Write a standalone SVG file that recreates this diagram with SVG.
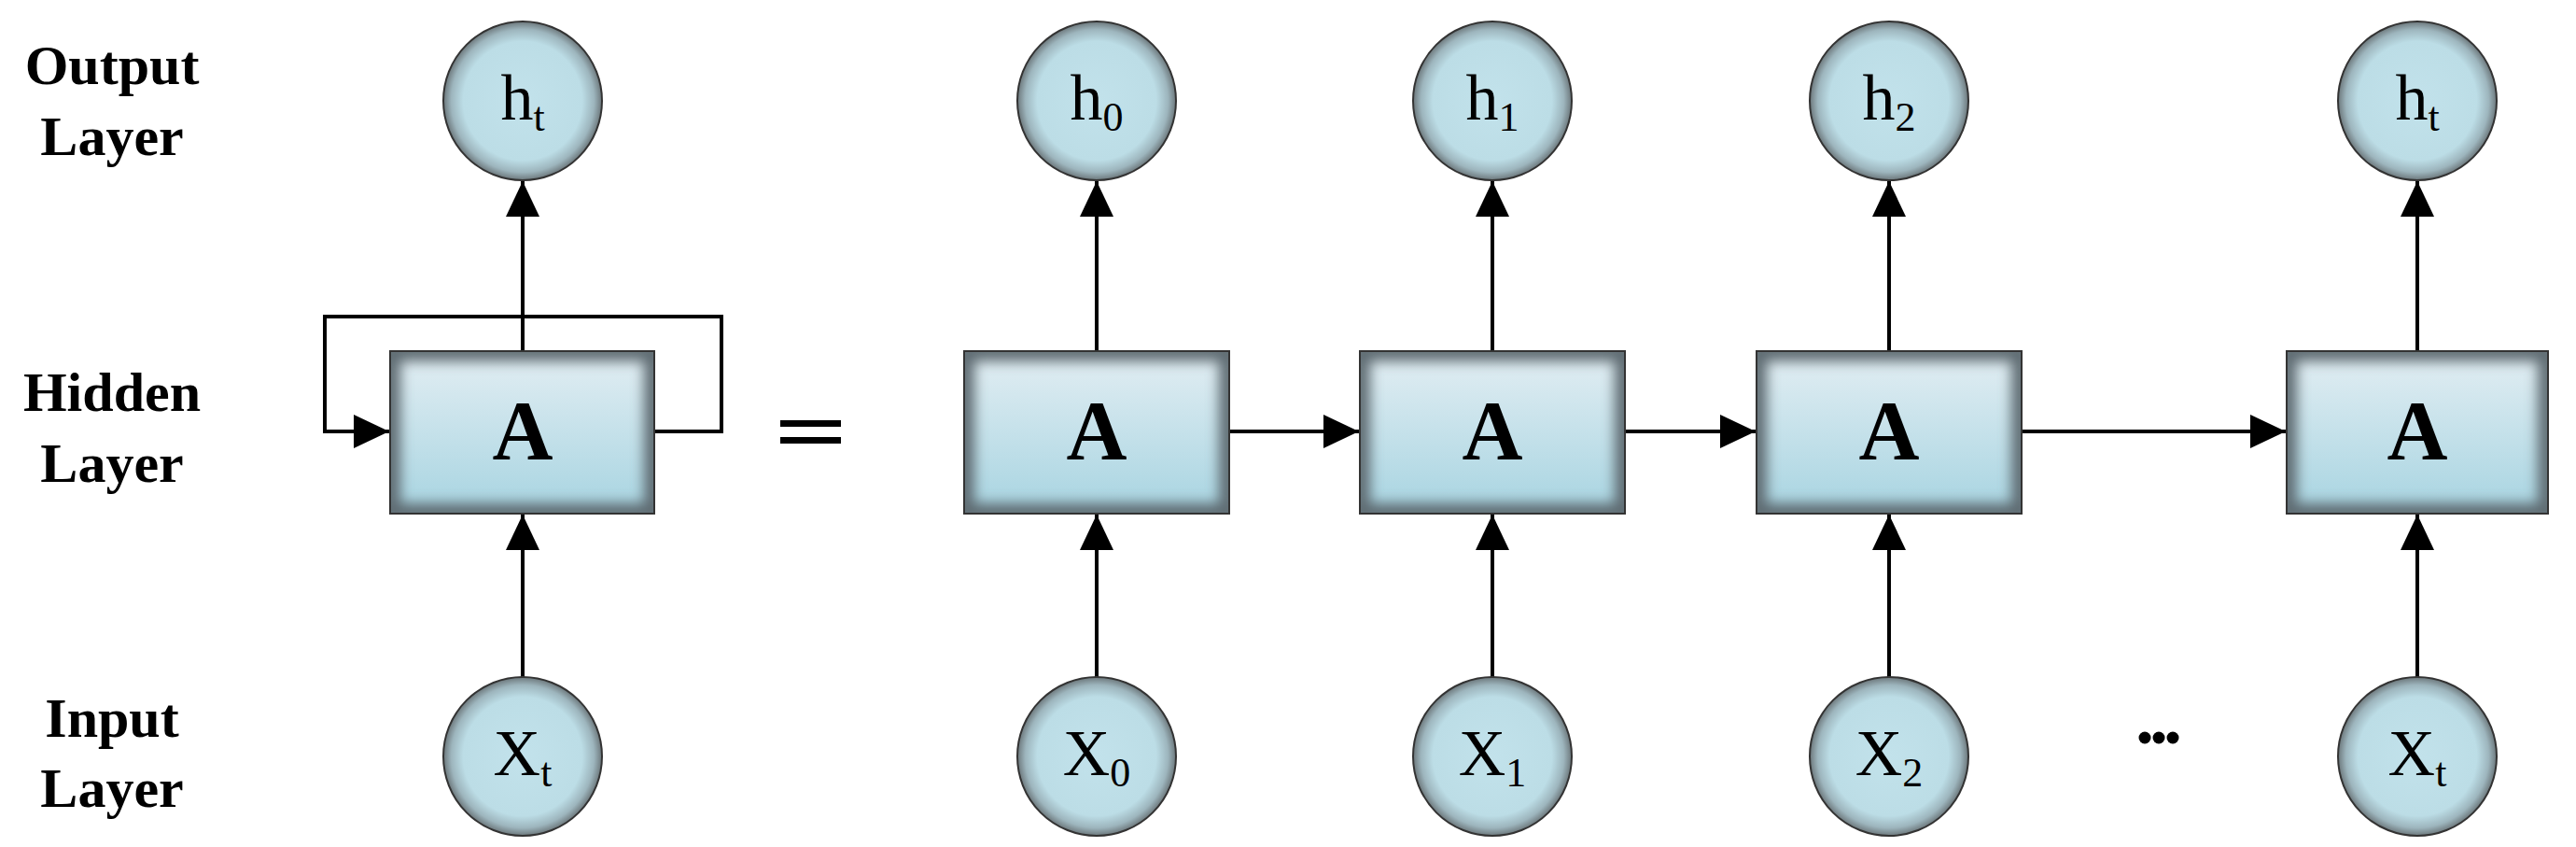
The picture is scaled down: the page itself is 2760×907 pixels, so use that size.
<svg xmlns="http://www.w3.org/2000/svg" width="2760" height="907" viewBox="0 0 2760 907">
<defs>
<style>
.lbl{font-family:"Liberation Serif",serif;font-weight:bold;font-size:60px;text-anchor:middle;fill:#000}
.ct{font-family:"Liberation Serif",serif;font-size:70px;text-anchor:middle;fill:#000}
.sub{font-size:44px}
.bt{font-family:"Liberation Serif",serif;font-weight:bold;font-size:90px;text-anchor:middle;fill:#000}
.ln{stroke:#000;stroke-width:4;fill:none;marker-end:url(#ah)}
.circ{fill:url(#rg);stroke:#333;stroke-width:2}
.box{fill:url(#lg);stroke:#333;stroke-width:2}
.glow{fill:none;stroke:#5f6c72;stroke-width:22;filter:url(#bl)}
</style>
<radialGradient id="rg" cx="0.5" cy="0.5" r="0.5">
<stop offset="0" stop-color="#c2e2eb"/><stop offset="0.75" stop-color="#bcdde6"/><stop offset="0.9" stop-color="#9db5bd"/><stop offset="1" stop-color="#6c777b"/>
</radialGradient>
<linearGradient id="lg" x1="0" y1="0" x2="0" y2="1">
<stop offset="0" stop-color="#e3eef3"/><stop offset="1" stop-color="#a7d4e1"/>
</linearGradient>
<filter id="bl" x="-0.1" y="-0.1" width="1.2" height="1.2"><feGaussianBlur stdDeviation="7"/></filter>
<marker id="ah" markerUnits="userSpaceOnUse" markerWidth="40" markerHeight="36" refX="38" refY="18" orient="auto"><path d="M0,0 L38,18 L0,36 Z" fill="#000"/></marker>
<clipPath id="c0"><rect x="418" y="376" width="283" height="174"/></clipPath>
<clipPath id="c1"><rect x="1033" y="376" width="284" height="174"/></clipPath>
<clipPath id="c2"><rect x="1457" y="376" width="284" height="174"/></clipPath>
<clipPath id="c3"><rect x="1882" y="376" width="284" height="174"/></clipPath>
<clipPath id="c4"><rect x="2450" y="376" width="280" height="174"/></clipPath>
</defs>
<rect width="2760" height="907" fill="#fff"/>
<g id="labels">
<text class="lbl" x="120" y="90">Output</text><text class="lbl" x="120" y="166">Layer</text>
<text class="lbl" x="120" y="440">Hidden</text><text class="lbl" x="120" y="516">Layer</text>
<text class="lbl" x="120" y="789">Input</text><text class="lbl" x="120" y="864">Layer</text>
</g>
<g id="connectors">
<line class="ln" x1="560" y1="376" x2="560" y2="194"/>
<line class="ln" x1="560" y1="725" x2="560" y2="551"/>
<polyline class="ln" points="701,462 773,462 773,339 348,339 348,462 417,462"/>
<line class="ln" x1="1175" y1="376" x2="1175" y2="194"/>
<line class="ln" x1="1175" y1="725" x2="1175" y2="551"/>
<line class="ln" x1="1599" y1="376" x2="1599" y2="194"/>
<line class="ln" x1="1599" y1="725" x2="1599" y2="551"/>
<line class="ln" x1="2024" y1="376" x2="2024" y2="194"/>
<line class="ln" x1="2024" y1="725" x2="2024" y2="551"/>
<line class="ln" x1="2590" y1="376" x2="2590" y2="194"/>
<line class="ln" x1="2590" y1="725" x2="2590" y2="551"/>
<line class="ln" x1="1317" y1="462" x2="1456" y2="462"/>
<line class="ln" x1="1741" y1="462" x2="1881" y2="462"/>
<line class="ln" x1="2166" y1="462" x2="2449" y2="462"/>
</g>
<g id="eq"><rect x="836" y="450" width="65" height="7" fill="#000"/><rect x="836" y="468" width="65" height="7" fill="#000"/></g>
<g id="dots" fill="#000"><circle cx="2298" cy="790" r="6.5"/><circle cx="2313" cy="790" r="6.5"/><circle cx="2328" cy="790" r="6.5"/></g>
<g id="A0"><rect class="box" x="418" y="376" width="283" height="174"/><rect class="glow" x="418" y="376" width="283" height="174" clip-path="url(#c0)"/><rect x="418" y="376" width="283" height="174" fill="none" stroke="#333" stroke-width="2"/><text class="bt" x="560" y="492">A</text></g>
<g id="A1"><rect class="box" x="1033" y="376" width="284" height="174"/><rect class="glow" x="1033" y="376" width="284" height="174" clip-path="url(#c1)"/><rect x="1033" y="376" width="284" height="174" fill="none" stroke="#333" stroke-width="2"/><text class="bt" x="1175" y="492">A</text></g>
<g id="A2"><rect class="box" x="1457" y="376" width="284" height="174"/><rect class="glow" x="1457" y="376" width="284" height="174" clip-path="url(#c2)"/><rect x="1457" y="376" width="284" height="174" fill="none" stroke="#333" stroke-width="2"/><text class="bt" x="1599" y="492">A</text></g>
<g id="A3"><rect class="box" x="1882" y="376" width="284" height="174"/><rect class="glow" x="1882" y="376" width="284" height="174" clip-path="url(#c3)"/><rect x="1882" y="376" width="284" height="174" fill="none" stroke="#333" stroke-width="2"/><text class="bt" x="2024" y="492">A</text></g>
<g id="A4"><rect class="box" x="2450" y="376" width="280" height="174"/><rect class="glow" x="2450" y="376" width="280" height="174" clip-path="url(#c4)"/><rect x="2450" y="376" width="280" height="174" fill="none" stroke="#333" stroke-width="2"/><text class="bt" x="2590" y="492">A</text></g>
<g id="ht0"><circle class="circ" cx="560" cy="108" r="85"/><text class="ct" x="560" y="128">h<tspan class="sub" dy="12">t</tspan></text></g>
<g id="h0"><circle class="circ" cx="1175" cy="108" r="85"/><text class="ct" x="1175" y="128">h<tspan class="sub" dy="12">0</tspan></text></g>
<g id="h1"><circle class="circ" cx="1599" cy="108" r="85"/><text class="ct" x="1599" y="128">h<tspan class="sub" dy="12">1</tspan></text></g>
<g id="h2"><circle class="circ" cx="2024" cy="108" r="85"/><text class="ct" x="2024" y="128">h<tspan class="sub" dy="12">2</tspan></text></g>
<g id="ht"><circle class="circ" cx="2590" cy="108" r="85"/><text class="ct" x="2590" y="128">h<tspan class="sub" dy="12">t</tspan></text></g>
<g id="xt0"><circle class="circ" cx="560" cy="810" r="85"/><text class="ct" x="560" y="830">X<tspan class="sub" dy="12">t</tspan></text></g>
<g id="x0"><circle class="circ" cx="1175" cy="810" r="85"/><text class="ct" x="1175" y="830">X<tspan class="sub" dy="12">0</tspan></text></g>
<g id="x1"><circle class="circ" cx="1599" cy="810" r="85"/><text class="ct" x="1599" y="830">X<tspan class="sub" dy="12">1</tspan></text></g>
<g id="x2"><circle class="circ" cx="2024" cy="810" r="85"/><text class="ct" x="2024" y="830">X<tspan class="sub" dy="12">2</tspan></text></g>
<g id="xt"><circle class="circ" cx="2590" cy="810" r="85"/><text class="ct" x="2590" y="830">X<tspan class="sub" dy="12">t</tspan></text></g>
</svg>
